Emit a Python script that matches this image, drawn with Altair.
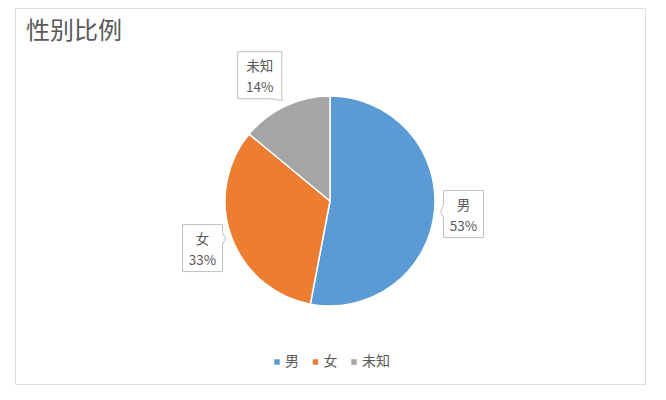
import math
import altair as alt
import pandas as pd

# ---- data ----
categories = ["男", "女", "未知"]
percentages = [53, 33, 14]
colors = ["#5B9BD5", "#ED7D31", "#A5A5A5"]
title_text = "性别比例"

FONT = "Noto Sans CJK SC"
W, H = 630, 376          # frame (view) size
R = 105                  # pie radius
Y_TOP = 193              # pie centre distance from top of view
xs = alt.Scale(domain=[-W / 2, W / 2], nice=False, zero=False)
ys = alt.Scale(domain=[-(H - Y_TOP), Y_TOP], nice=False, zero=False)


def callout_path(tx, ty, w, h):
    """Box centred on 0,0 with a tail pointing to (tx, ty) (screen coords)."""
    def cl(v, lo, hi):
        return max(lo, min(hi, v))
    tip = f"L{tx:.1f},{ty:.1f}"
    if abs(ty) > h:  # tail on top / bottom edge
        sx = 1 if tx >= 0 else -1
        a = cl(tx - 13 * sx, -w, w)
        b = cl(tx - 1 * sx, -w, w)
        lo, hi = min(a, b), max(a, b)
        if ty > 0:
            return (f"M{-w},{-h}H{w}V{h}H{hi:.1f}{tip}L{lo:.1f},{h}H{-w}Z")
        return (f"M{-w},{-h}H{lo:.1f}{tip}L{hi:.1f},{-h}H{w}V{h}H{-w}Z")
    b1 = cl(ty - 6, -h, h)
    b2 = cl(ty + 6, -h, h)
    if tx > 0:
        return (f"M{-w},{-h}H{w}V{b1:.1f}{tip}L{w},{b2:.1f}V{h}H{-w}Z")
    return (f"M{-w},{-h}H{w}V{h}H{-w}V{b2:.1f}{tip}L{-w},{b1:.1f}Z")


rows = []
total = sum(percentages)
cum = 0
for i, (c, p) in enumerate(zip(categories, percentages)):
    mid = (cum + p / 2) / total * 2 * math.pi
    cum += p
    s, co = math.sin(mid), math.cos(mid)
    ax, ay = (R + 6) * s, (R + 6) * co          # anchor on pie edge (y up)
    bx, by = ax + math.copysign(23, s), ay + 28 * co   # box centre
    tx, ty = ax - bx, by - ay                    # tail tip, screen coords
    w = 18 + 2 * len(c)
    rows.append(dict(cat=c, pct=p, idx=i, bx=bx, by=by,
                     label=f"{c}\n{p}%",
                     path=callout_path(tx, ty, w, 23.5)))
df = pd.DataFrame(rows)

color = alt.Color("cat:N", scale=alt.Scale(domain=categories, range=colors),
                  legend=alt.Legend(title=None, orient="none", direction="horizontal",
                                    legendX=255, legendY=347, symbolType="square",
                                    symbolSize=30, symbolStrokeWidth=0,
                                    labelFont=FONT, labelFontSize=14,
                                    labelColor="#595959", labelOffset=1,
                                    columnPadding=9.5))

pie = alt.Chart(df).mark_arc(outerRadius=R, stroke="white", strokeWidth=1.5).encode(
    theta=alt.Theta("pct:Q", stack=True),
    order=alt.Order("idx:Q"),
    color=color,
    x=alt.X(datum=0, type="quantitative", scale=xs, axis=None),
    y=alt.Y(datum=0, type="quantitative", scale=ys, axis=None),
)

boxes = alt.Chart(df).mark_point(filled=True, color="white", stroke="#BFBFBF",
                                 strokeWidth=1, opacity=1, size=4).encode(
    x=alt.X("bx:Q", scale=xs, axis=None),
    y=alt.Y("by:Q", scale=ys, axis=None),
    shape=alt.Shape("path:N", scale=None),
)

texts = alt.Chart(df).mark_text(font=FONT, fontSize=13.5, color="#595959",
                                lineBreak="\n", lineHeight=21, dy=-8.5,
                                align="center", baseline="middle").encode(
    x=alt.X("bx:Q", scale=xs, axis=None),
    y=alt.Y("by:Q", scale=ys, axis=None),
    text="label:N",
)

chart = alt.layer(pie, boxes, texts).properties(
    width=W, height=H,
    autosize=alt.AutoSizeParams(type="none"),
    padding={"left": 7, "top": 0, "right": 8, "bottom": 8},
    title=alt.TitleParams(title_text, anchor="start", orient="top", frame="group",
                          offset=-36, dx=11, font=FONT, fontSize=24,
                          fontWeight="normal", color="#595959"),
).configure_view(stroke="#D9D9D9", strokeWidth=1).configure(background="white")

chart.save("out.html", embed_options={"renderer": "svg", "actions": False})
